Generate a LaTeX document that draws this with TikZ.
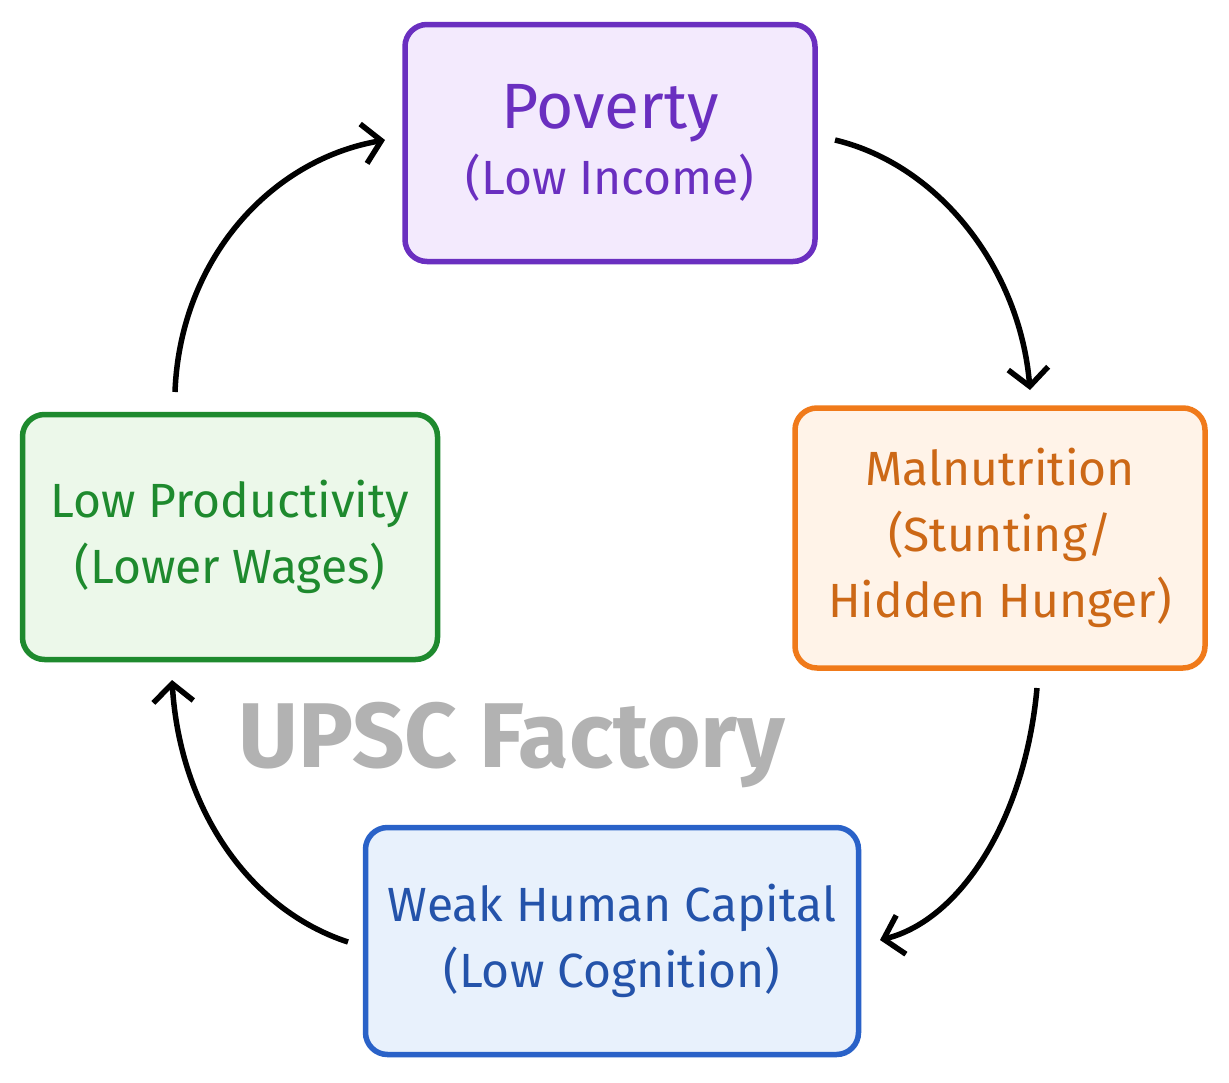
\documentclass[tikz,border=0pt]{standalone}
\usepackage{fontspec}
\setmainfont{Fira Sans}
\newfontfamily\wm{Fira Sans}
\usetikzlibrary{arrows.meta}
\definecolor{pur}{HTML}{6A2FC0}\definecolor{purf}{HTML}{F3EAFD}
\definecolor{ora}{HTML}{F07A1A}\definecolor{oraf}{HTML}{FFF3E8}
\definecolor{gre}{HTML}{1E8A2E}\definecolor{gref}{HTML}{ECF8EA}
\definecolor{blu}{HTML}{2A62C8}\definecolor{bluf}{HTML}{E8F1FC}
\begin{document}
\begin{tikzpicture}[x=1pt,y=-1pt,
  box/.style={draw,line width=5.5pt,rounded corners=22pt,inner sep=0pt,align=center,font=\fontsize{48}{66}\selectfont},
  arr/.style={line width=5.5pt,-{Straight Barb[length=18pt,width=40pt,line width=5.5pt]}}]
\useasboundingbox[fill=white] (0,0) rectangle (1229,1082);
\node[box,draw=pur,fill=purf,text=pur,minimum width=410pt,minimum height=237pt] (pov) at (610,143)
  {{\fontsize{64}{80}\selectfont Poverty}\\(Low Income)};
\node[box,draw=ora,fill=oraf,text=ora!85!black,minimum width=410pt,minimum height=260pt] (mal) at (1000,538)
  {Malnutrition\\(Stunting/\\Hidden Hunger)};
\node[box,draw=gre,fill=gref,text=gre,minimum width=415pt,minimum height=245pt] (low) at (230,537)
  {Low Productivity\\(Lower Wages)};
\node[box,draw=blu,fill=bluf,text=blu!85!black,minimum width=493pt,minimum height=227pt] (wea) at (612,941)
  {Weak Human Capital\\(Low Cognition)};
\node[text=gray!60,font=\wm\bfseries\fontsize{92}{96}\selectfont] (w) at (512,745) {UPSC Factory};
\coordinate (a1s) at (175,392); \coordinate (a1e) at (385,140);
\coordinate (a2s) at (835,140); \coordinate (a2e) at (1030,390);
\coordinate (a3s) at (1037,688); \coordinate (a3e) at (880,940);
\coordinate (a4s) at (348,942); \coordinate (a4e) at (172,680);
\draw[arr] (a1s) .. controls (180,260) and (270,160) .. (a1e);
\draw[arr] (a2s) .. controls (940,165) and (1020,270) .. (a2e);
\draw[arr] (a3s) .. controls (1025,820) and (960,920) .. (a3e);
\draw[arr] (a4s) .. controls (250,910) and (180,810) .. (a4e);
\end{tikzpicture}
\end{document}
